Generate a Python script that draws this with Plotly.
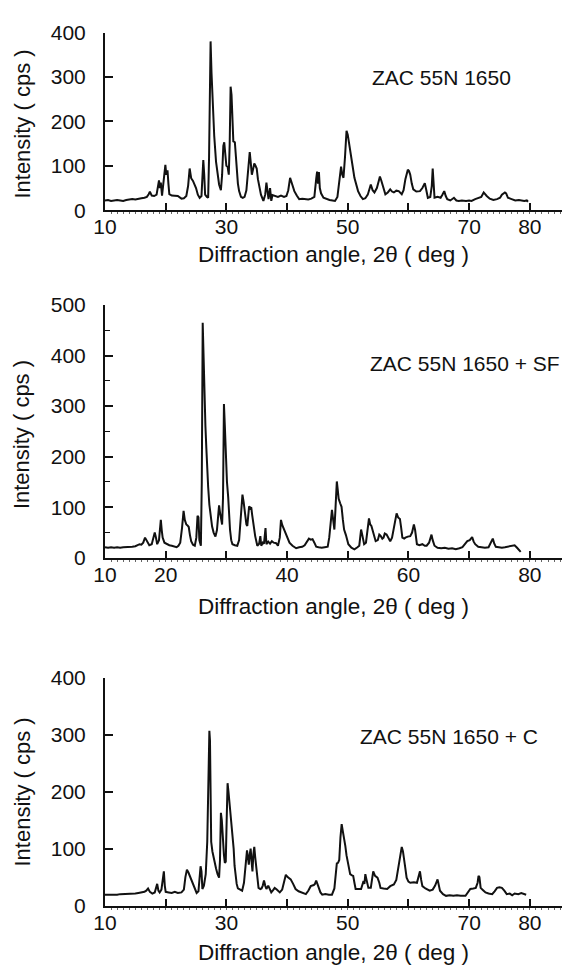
import plotly.graph_objects as go

# X-ray diffraction patterns: (2-theta in deg, intensity in cps)
pattern_base = [
    (10.0, 22), (10.5, 23), (11.0, 21), (11.5, 22), (12.0, 23), (12.5, 22), (13.0, 21), (13.5, 23),
    (14.0, 24), (14.5, 25), (15.0, 24), (15.5, 26), (16.0, 27), (16.5, 28), (16.9, 30), (17.2, 36),
    (17.4, 42), (17.7, 33), (18.1, 32), (18.5, 35), (18.75, 55), (18.9, 67), (19.05, 50), (19.2, 62),
    (19.4, 33), (19.6, 60), (19.8, 92), (19.95, 102), (20.1, 80), (20.3, 90), (20.45, 60), (20.6, 36),
    (21.0, 33), (21.5, 33), (22.0, 32), (22.6, 26), (23.0, 27), (23.4, 32), (23.7, 55), (23.95, 94),
    (24.2, 72), (24.5, 66), (24.8, 58), (25.0, 50), (25.3, 35), (25.6, 28), (25.9, 32), (26.05, 70),
    (26.2, 113), (26.35, 80), (26.5, 35), (26.8, 30), (27.0, 28), (27.15, 120), (27.3, 300), (27.4, 380),
    (27.55, 310), (27.7, 250), (27.85, 230), (28.0, 167), (28.3, 109), (28.55, 75), (28.8, 58), (29.1, 45),
    (29.3, 80), (29.5, 145), (29.65, 153), (29.8, 130), (30.0, 100), (30.2, 98), (30.4, 80), (30.55, 150),
    (30.7, 278), (30.85, 260), (31.0, 190), (31.15, 155), (31.4, 153), (31.55, 120), (31.7, 94), (31.9, 60),
    (32.1, 43), (32.4, 30), (32.7, 28), (33.0, 30), (33.3, 45), (33.6, 90), (33.85, 131), (34.0, 110),
    (34.2, 80), (34.4, 92), (34.6, 105), (34.8, 100), (35.0, 94), (35.2, 70), (35.4, 55), (35.7, 35),
    (36.1, 21), (36.4, 35), (36.6, 62), (36.8, 30), (36.95, 25), (37.2, 50), (37.4, 21), (37.6, 34),
    (38.0, 32), (38.5, 30), (39.0, 33), (39.5, 30), (39.9, 32), (40.2, 45), (40.5, 73), (40.8, 58),
    (41.2, 43), (41.6, 33), (42.0, 25), (42.5, 26), (43.0, 25), (43.5, 24), (44.0, 26), (44.5, 30),
    (44.8, 70), (44.95, 87), (45.1, 60), (45.25, 86), (45.4, 50), (45.6, 38), (46.0, 28), (46.5, 25),
    (47.0, 23), (47.5, 22), (47.9, 21), (48.3, 30), (48.6, 60), (48.9, 98), (49.1, 80), (49.3, 73),
    (49.55, 120), (49.8, 179), (50.0, 170), (50.2, 150), (50.4, 135), (50.6, 117), (50.85, 95), (51.1, 73),
    (51.4, 55), (51.7, 43), (52.1, 32), (52.5, 25), (52.9, 27), (53.3, 35), (53.8, 58), (54.1, 45),
    (54.4, 40), (54.8, 50), (55.1, 65), (55.3, 76), (55.5, 68), (55.7, 58), (55.95, 45), (56.2, 36),
    (56.6, 40), (57.0, 47), (57.3, 42), (57.6, 40), (58.0, 44), (58.4, 43), (58.9, 36), (59.2, 45),
    (59.5, 70), (59.9, 91), (60.1, 88), (60.3, 80), (60.55, 60), (60.8, 47), (61.3, 42), (61.9, 43),
    (62.3, 50), (62.7, 61), (62.95, 45), (63.2, 28), (63.6, 30), (63.85, 55), (64.0, 94), (64.15, 60),
    (64.3, 28), (64.8, 30), (65.3, 28), (65.6, 35), (65.9, 43), (66.15, 32), (66.4, 25), (66.9, 22),
    (67.5, 28), (67.9, 22), (68.3, 21), (68.8, 22), (69.5, 21), (70.0, 22), (70.4, 21), (71.0, 25),
    (71.5, 28), (72.0, 30), (72.4, 40), (72.6, 36), (72.9, 32), (73.4, 26), (74.0, 23), (74.6, 25),
    (75.1, 28), (75.4, 35), (75.9, 40), (76.1, 38), (76.4, 28), (77.0, 25), (77.6, 22), (78.2, 23),
    (78.7, 21), (79.1, 21), (79.5, 22), (79.7, 19),
]

pattern_sf = [
    (10.0, 21), (10.5, 20), (11.0, 21), (11.5, 20), (12.0, 21), (12.5, 20), (13.0, 21), (13.5, 21),
    (14.0, 22), (14.5, 22), (15.0, 23), (15.4, 25), (15.7, 27), (16.0, 26), (16.3, 30), (16.6, 40),
    (16.9, 33), (17.3, 25), (17.7, 27), (18.0, 40), (18.2, 50), (18.4, 40), (18.6, 27), (18.9, 35),
    (19.1, 65), (19.2, 75), (19.35, 55), (19.5, 40), (19.8, 30), (20.2, 27), (20.6, 25), (21.0, 24),
    (21.4, 22), (21.8, 21), (22.1, 24), (22.4, 30), (22.7, 60), (22.95, 93), (23.15, 75), (23.4, 66),
    (23.6, 64), (23.8, 61), (24.0, 45), (24.2, 33), (24.5, 26), (24.8, 24), (25.05, 40), (25.25, 83),
    (25.4, 80), (25.55, 35), (25.8, 24), (25.95, 150), (26.1, 465), (26.25, 380), (26.4, 307), (26.55, 260),
    (26.7, 217), (26.85, 170), (27.0, 140), (27.2, 105), (27.4, 82), (27.65, 62), (27.9, 50), (28.2, 42),
    (28.45, 55), (28.65, 90), (28.8, 104), (28.95, 90), (29.1, 75), (29.3, 66), (29.45, 120), (29.6, 304),
    (29.75, 260), (29.9, 191), (30.1, 150), (30.3, 120), (30.45, 80), (30.6, 56), (30.8, 35), (31.0, 27),
    (31.4, 25), (31.8, 24), (32.1, 35), (32.4, 80), (32.65, 125), (32.85, 110), (33.1, 82), (33.3, 66),
    (33.45, 63), (33.6, 90), (33.75, 102), (33.95, 98), (34.1, 100), (34.25, 85), (34.4, 70), (34.55, 55),
    (34.75, 43), (35.1, 24), (35.4, 28), (35.6, 43), (35.75, 24), (36.0, 30), (36.2, 28), (36.45, 59),
    (36.6, 27), (36.9, 32), (37.2, 28), (37.5, 33), (37.8, 30), (38.2, 29), (38.5, 24), (38.8, 40),
    (39.0, 75), (39.2, 65), (39.6, 53), (40.0, 40), (40.4, 30), (40.9, 24), (41.5, 19), (42.0, 21),
    (42.5, 22), (42.9, 25), (43.3, 32), (43.6, 38), (43.9, 36), (44.2, 37), (44.5, 30), (44.8, 22),
    (45.2, 21), (45.7, 20), (46.2, 21), (46.7, 22), (46.95, 40), (47.2, 80), (47.4, 95), (47.6, 75),
    (47.8, 56), (47.95, 90), (48.2, 151), (48.35, 135), (48.5, 117), (48.75, 108), (48.98, 101), (49.2, 75),
    (49.4, 56), (49.7, 45), (50.1, 27), (50.6, 20), (51.1, 17), (51.6, 21), (51.9, 24), (52.05, 40),
    (52.2, 56), (52.4, 45), (52.7, 27), (53.0, 30), (53.25, 55), (53.5, 78), (53.7, 66), (53.9, 63),
    (54.2, 50), (54.6, 33), (54.95, 35), (55.2, 46), (55.4, 44), (55.7, 38), (55.9, 40), (56.1, 48),
    (56.4, 46), (56.7, 38), (57.0, 33), (57.3, 40), (57.6, 60), (57.9, 85), (58.05, 88), (58.3, 80),
    (58.6, 77), (58.8, 60), (59.0, 40), (59.3, 38), (59.5, 40), (59.9, 42), (60.3, 43), (60.6, 50),
    (60.9, 66), (61.1, 55), (61.4, 27), (61.8, 25), (62.3, 27), (62.7, 24), (63.0, 24), (63.4, 30),
    (63.8, 46), (64.0, 35), (64.3, 24), (64.8, 20), (65.4, 19), (66.0, 20), (66.6, 18), (67.2, 19),
    (67.8, 17), (68.4, 19), (68.9, 21), (69.3, 27), (69.7, 33), (70.1, 35), (70.5, 41), (70.75, 32),
    (71.0, 27), (71.5, 22), (72.0, 21), (72.6, 20), (73.2, 21), (73.6, 30), (73.9, 38), (74.15, 28),
    (74.4, 22), (74.9, 21), (75.4, 20), (75.9, 21), (76.4, 22), (77.0, 24), (77.5, 25), (77.9, 20),
    (78.2, 15), (78.5, 12),
]

pattern_c = [
    (10.0, 19), (10.5, 19), (11.0, 18), (11.5, 19), (12.0, 19), (12.5, 20), (13.0, 20), (13.5, 20),
    (14.0, 21), (14.5, 21), (15.0, 21), (15.5, 22), (16.0, 23), (16.5, 24), (16.8, 26), (17.1, 30),
    (17.4, 24), (17.8, 21), (18.2, 23), (18.45, 34), (18.6, 38), (18.8, 26), (19.0, 23), (19.3, 28),
    (19.55, 55), (19.7, 60), (19.85, 35), (20.0, 24), (20.5, 23), (21.0, 22), (21.5, 24), (22.0, 22),
    (22.6, 23), (23.0, 28), (23.25, 50), (23.5, 63), (23.75, 58), (23.98, 52), (24.2, 45), (24.5, 35),
    (24.8, 27), (25.1, 22), (25.4, 25), (25.6, 55), (25.75, 69), (25.9, 60), (26.05, 29), (26.3, 35),
    (26.6, 55), (26.85, 112), (27.0, 200), (27.1, 280), (27.2, 307), (27.3, 290), (27.4, 226), (27.5, 112),
    (27.7, 95), (28.0, 77), (28.3, 65), (28.55, 55), (28.8, 49), (28.95, 80), (29.1, 163), (29.25, 150),
    (29.35, 129), (29.5, 100), (29.6, 89), (29.75, 75), (29.9, 77), (30.05, 150), (30.2, 215), (30.35, 200),
    (30.5, 183), (30.7, 160), (30.9, 134), (31.05, 110), (31.2, 100), (31.35, 70), (31.5, 55), (31.7, 38),
    (31.9, 30), (32.3, 27), (32.6, 26), (32.9, 40), (33.15, 70), (33.4, 97), (33.55, 85), (33.7, 72),
    (33.85, 90), (34.0, 100), (34.15, 78), (34.3, 60), (34.45, 90), (34.6, 103), (34.75, 85), (34.9, 66),
    (35.1, 45), (35.3, 31), (35.6, 29), (35.8, 30), (36.0, 35), (36.2, 44), (36.4, 35), (36.6, 29),
    (36.9, 35), (37.1, 30), (37.4, 23), (37.7, 27), (37.96, 31), (38.3, 28), (38.8, 23), (39.2, 28),
    (39.5, 42), (39.8, 54), (40.1, 50), (40.6, 46), (41.0, 38), (41.4, 29), (41.9, 25), (42.5, 22),
    (43.1, 20), (43.5, 26), (43.9, 34), (44.4, 36), (44.6, 38), (44.8, 44), (45.0, 38), (45.2, 29),
    (45.5, 23), (45.8, 19), (46.3, 20), (46.9, 19), (47.4, 19), (47.8, 30), (48.0, 55), (48.2, 74),
    (48.4, 75), (48.6, 80), (48.8, 120), (49.0, 143), (49.2, 130), (49.4, 120), (49.6, 105), (49.8, 88),
    (50.1, 68), (50.4, 55), (50.7, 53), (50.9, 52), (51.1, 40), (51.3, 29), (51.8, 29), (52.2, 29),
    (52.4, 36), (52.6, 43), (52.75, 38), (52.9, 55), (53.1, 45), (53.4, 31), (53.8, 31), (54.0, 45),
    (54.2, 60), (54.5, 52), (54.9, 49), (55.2, 40), (55.4, 31), (55.9, 30), (56.5, 29), (57.0, 34),
    (57.6, 37), (58.0, 45), (58.3, 65), (58.6, 90), (58.9, 103), (59.1, 95), (59.3, 83), (59.5, 65),
    (59.7, 49), (60.0, 42), (60.3, 40), (60.9, 41), (61.4, 40), (61.65, 48), (61.9, 60), (62.1, 45),
    (62.3, 34), (62.8, 30), (63.5, 26), (64.0, 28), (64.4, 35), (64.8, 46), (65.0, 38), (65.2, 26),
    (65.7, 20), (66.2, 17), (66.8, 18), (67.4, 17), (68.0, 18), (68.6, 17), (69.4, 17), (69.8, 22),
    (70.2, 29), (70.7, 30), (71.1, 31), (71.4, 40), (71.55, 52), (71.7, 50), (71.9, 31), (72.3, 27),
    (72.7, 23), (73.2, 21), (73.8, 20), (74.2, 25), (74.6, 31), (75.0, 32), (75.4, 31), (75.8, 26),
    (76.2, 20), (76.7, 21), (77.1, 18), (77.5, 21), (78.1, 20), (78.6, 22), (79.0, 21), (79.4, 19),
]

sample_names = ["ZAC 55N 1650", "ZAC 55N 1650 + SF", "ZAC 55N 1650 + C"]
y_maxima = [400, 500, 400]
x_tick_values = [10, 20, 30, 40, 50, 60, 70, 80]
x_tick_labels = [
    ["10", "", "30", "", "50", "", "70", "80"],
    ["10", "20", "", "40", "", "60", "", "80"],
    ["10", "", "30", "", "50", "", "70", "80"],
]
x_title = "Diffraction angle, 2θ ( deg )"
y_title = "Intensity ( cps )"

W, H = 567, 979
FONT = "Liberation Sans, Arial, Helvetica, sans-serif"
INK = "#111111"


def fx(px):
    return px / W


def fy(py):
    return 1 - py / H


# pixel frame of each panel: left, right, bottom (y=0), top (y=max)
frames = [
    dict(left=95, right=562, bottom=203, top=21, xt=248, yt=115, lab=(366, 67)),
    dict(left=95, right=562, bottom=559, top=300, xt=609, yt=433, lab=(364, 360)),
    dict(left=95, right=562, bottom=915, top=682, xt=963, yt=799, lab=(353, 742)),
]

patterns = [pattern_base, pattern_sf, pattern_c]

fig = go.Figure()
annotations = []
layout = {}

for i, (pat, fr) in enumerate(zip(patterns, frames)):
    n = "" if i == 0 else str(i + 1)
    tt = [p[0] for p in pat]
    cps = [p[1] for p in pat]
    fig.add_trace(go.Scatter(
        x=tt, y=cps, mode="lines", xaxis="x" + n, yaxis="y" + n,
        line=dict(color=INK, width=2), showlegend=False, hoverinfo="skip",
    ))
    layout["xaxis" + n] = dict(
        domain=[fx(fr["left"]), fx(fr["right"])],
        anchor="y" + n,
        range=[10, 10 + (fr["right"] - fr["left"]) / 6.2],
        showline=True, linecolor=INK, linewidth=2,
        showgrid=False, zeroline=False,
        ticks="inside", ticklen=7, tickwidth=1.5, tickcolor=INK,
        tickmode="array", tickvals=x_tick_values, ticktext=x_tick_labels[i],
        tickfont=dict(family=FONT, size=21, color=INK),
        ticklabelstandoff=-3,
        minor=dict(ticks="outside", ticklen=2, tickwidth=1, tickcolor="#666", dtick=1),
    )
    ymax = y_maxima[i]
    yax = dict(
        domain=[fy(fr["bottom"]), fy(fr["top"])],
        anchor="x" + n,
        range=[0, ymax],
        showline=True, linecolor=INK, linewidth=2,
        showgrid=False, zeroline=False,
        ticks="inside", ticklen=8, tickwidth=1.5, tickcolor=INK,
        tickmode="linear", tick0=0, dtick=100,
        tickfont=dict(family=FONT, size=21, color=INK),
        ticklabelstandoff=13,
    )
    if ymax == 500:
        yax["minor"] = dict(ticks="inside", ticklen=5, tickwidth=1.2, tickcolor=INK, dtick=50)
    layout["yaxis" + n] = yax

    annotations.append(dict(
        text=x_title, xref="paper", yref="paper",
        x=fx(328), y=fy(fr["xt"]), xanchor="center", yanchor="middle",
        showarrow=False, font=dict(family=FONT, size=22.5, color=INK),
    ))
    annotations.append(dict(
        text=y_title, xref="paper", yref="paper", textangle=-90,
        x=fx(10.5), y=fy(fr["yt"]), xanchor="center", yanchor="middle",
        showarrow=False, font=dict(family=FONT, size=22, color=INK),
    ))
    annotations.append(dict(
        text=sample_names[i], xref="paper", yref="paper",
        x=fx(fr["lab"][0]), y=fy(fr["lab"][1]), xanchor="left", yanchor="middle",
        showarrow=False, font=dict(family=FONT, size=21, color=INK),
    ))

fig.update_layout(
    width=W, height=H,
    margin=dict(l=0, r=0, t=0, b=0),
    paper_bgcolor="white", plot_bgcolor="white",
    annotations=annotations,
    **layout,
)

fig.write_html("out.html")
